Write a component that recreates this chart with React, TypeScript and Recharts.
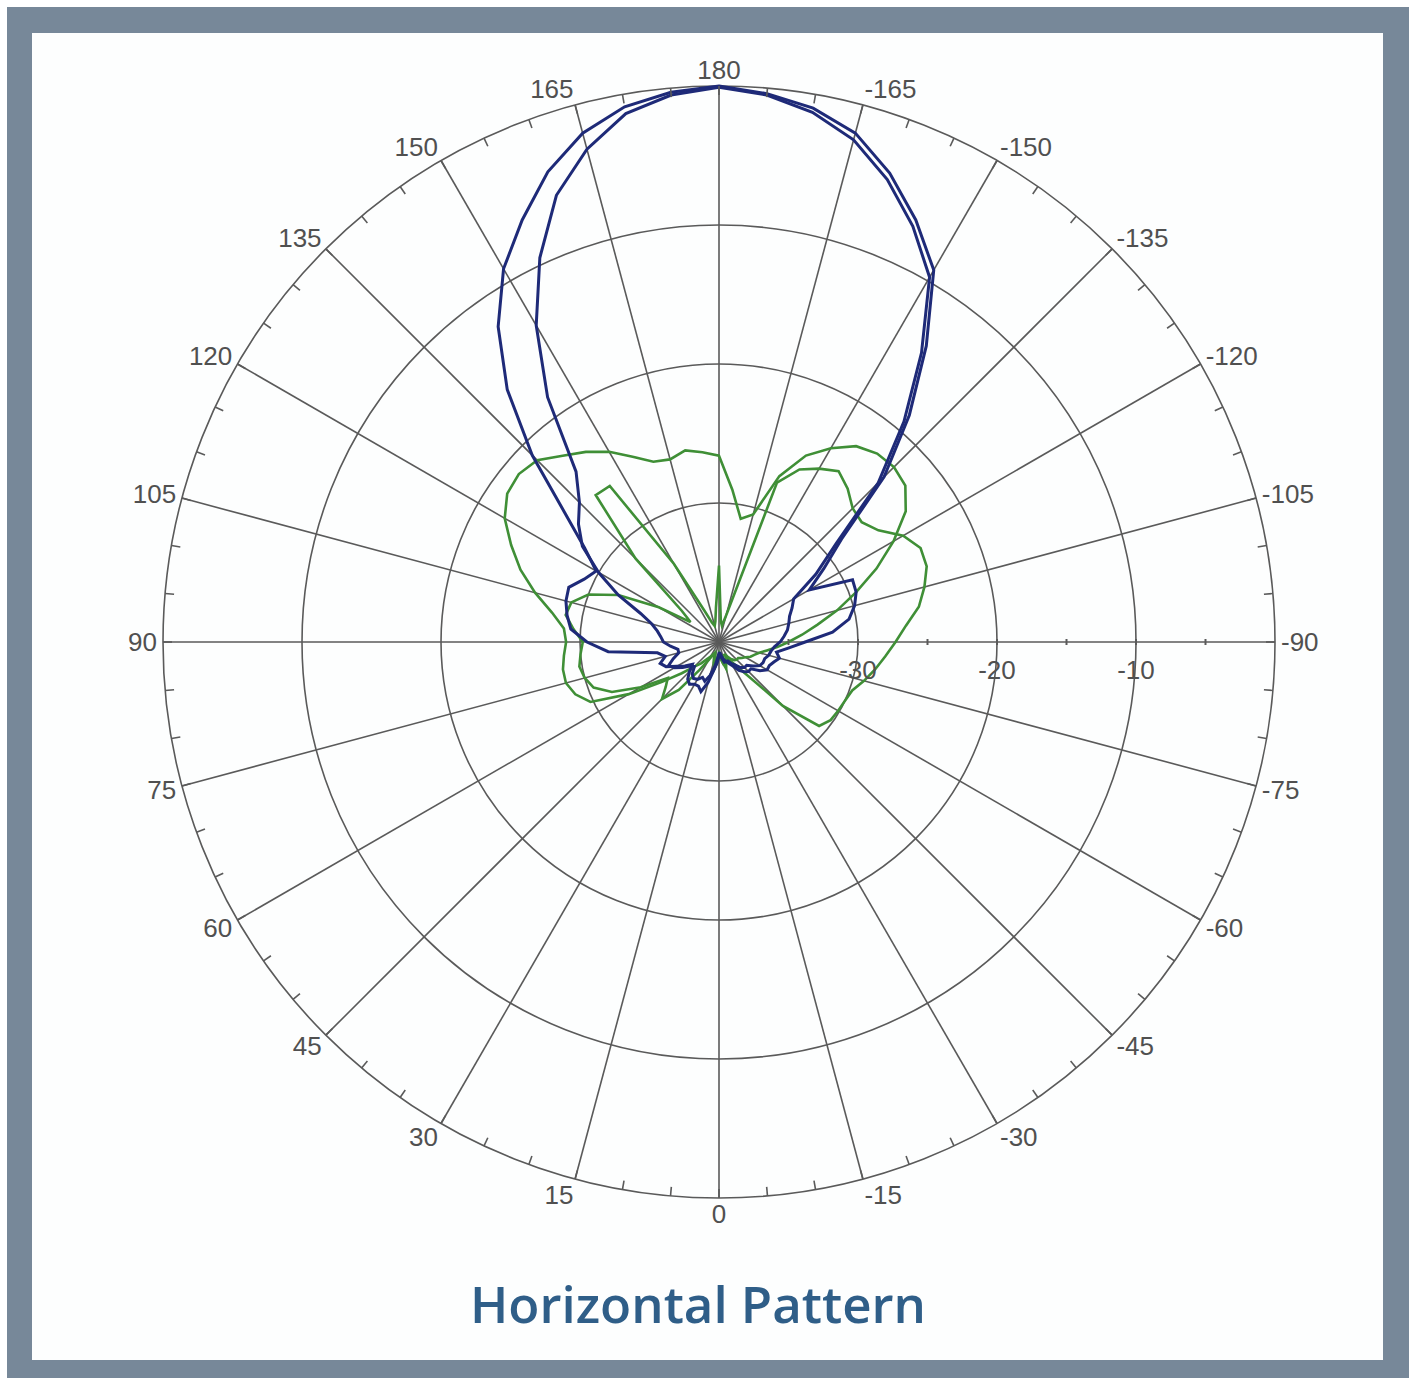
import React from 'react';
import { RadarChart, Radar, PolarGrid, PolarAngleAxis, PolarRadiusAxis } from 'recharts';

// pattern angles, 180 at the top, positive to the left
const ANGLES = [
  180, 175, 170, 165, 160, 155, 150, 145, 140, 135, 130, 125, 120, 115, 110, 105, 100, 95,
  90, 85, 80, 75, 70, 65, 60, 55, 50, 45, 40, 35, 30, 25, 20, 15, 10, 5,
  0, -5, -10, -15, -20, -25, -30, -35, -40, -45, -50, -55, -60, -65, -70, -75, -80, -85,
  -90, -95, -100, -105, -110, -115, -120, -125, -130, -135, -140, -145, -150, -155, -160, -165, -170, -175,
];

// dB values per angle
const BLUE_A = [
  0, -0.3, -0.9, -2.1, -4.0, -6.5, -9.0, -12.3, -16.3, -21.0, -25.5, -28.2, -29.8, -29.3, -28.5, -28.6, -28.9, -29.3,
  -30.5, -32.0, -35.5, -36.0, -35.5, -35.8, -36.5, -37.0, -37.5, -37.0, -36.5, -36.3, -36.5, -36.5, -36.2, -37.0, -38.0, -38.5,
  -39.0, -39.0, -38.8, -38.5, -38.5, -38.3, -38.0, -37.5, -37.2, -37.0, -37.0, -36.4, -36.0, -36.0, -35.8, -35.5, -35.8, -35.0,
  -33.8, -31.8, -30.5, -29.9, -29.5, -29.4, -32.5, -30.8, -28.5, -23.2, -18.7, -14.0, -9.1, -6.5, -4.1, -2.1, -1.0, -0.4,
];
const BLUE_B = [
  -0.1, -0.5, -1.4, -3.3, -5.8, -9.5, -13.7, -18.5, -24.0, -25.8, -26.8, -28.0, -30.0, -32.0, -34.0, -35.0, -35.5, -35.8,
  -36.0, -36.5, -37.0, -37.0, -36.5, -36.0, -36.3, -36.8, -37.3, -37.5, -37.0, -36.8, -36.9, -37.2, -37.0, -37.5, -38.2, -38.8,
  -39.2, -39.2, -39.0, -38.7, -38.5, -38.5, -38.2, -38.0, -37.6, -37.4, -37.4, -37.0, -36.6, -36.5, -36.5, -36.3, -36.2, -36.0,
  -35.6, -35.3, -35.0, -34.8, -34.6, -34.2, -33.8, -31.5, -29.0, -23.8, -19.3, -14.6, -9.7, -7.0, -4.6, -2.6, -1.3, -0.5,
];
const GREEN_A = [
  -26.6, -26.3, -26.0, -26.4, -26.2, -25.3, -24.2, -23.3, -22.5, -21.5, -21.2, -21.4, -22.2, -23.5, -24.8, -26.3, -27.8, -28.8,
  -29.0, -28.8, -28.6, -28.6, -29.0, -29.8, -32.5, -35.0, -36.5, -37.5, -38.0, -38.5, -38.8, -39.0, -39.0, -38.5, -38.0, -38.5,
  -39.0, -38.8, -38.5, -38.8, -39.0, -39.0, -38.8, -38.5, -38.3, -38.2, -38.2, -38.0, -37.8, -37.5, -37.3, -37.0, -36.5, -35.8,
  -35.0, -34.0, -32.8, -31.2, -29.5, -27.5, -25.5, -23.6, -22.5, -22.2, -22.3, -22.8, -23.9, -25.2, -27.3, -30.5, -31.0, -29.0,
];
const GREEN_B = [
  -34.5, -37.5, -38.5, -38.8, -38.5, -37.5, -33.5, -26.3, -26.2, -31.5, -36.5, -37.5, -35.0, -32.0, -30.0, -29.0, -28.8, -29.5,
  -30.2, -30.0, -29.8, -30.0, -30.4, -31.5, -33.5, -35.5, -35.0, -34.2, -35.5, -37.5, -38.5, -39.0, -39.2, -39.0, -38.0, -38.8,
  -39.2, -39.0, -38.5, -38.0, -38.5, -38.8, -38.5, -38.0, -37.0, -33.5, -30.6, -30.2, -30.1, -30.0, -29.8, -29.2, -28.6, -28.0,
  -27.3, -26.5, -25.4, -24.7, -24.1, -24.0, -24.7, -26.0, -26.6, -26.4, -25.6, -25.0, -25.6, -26.3, -27.8, -38.0, -38.8, -38.5,
];

const LABELLED_ANGLES = [180, 165, 150, 135, 120, 105, 90, 75, 60, 45, 30, 15, 0, -15, -30, -45, -60, -75, -90, -105, -120, -135, -150, -165];
const RING_DB = [-30, -20, -10, 0];
const RADIUS_TICKS = [-35, -30, -25, -20, -15, -10, -5];
const RADIUS_LABELS = [-30, -20, -10];
const DB_MIN = -40;
const DB_MAX = 0;

const CX = 719;
const CY = 642;
const R = 556;
const GRID = '#5a5a5a';
const LABEL = '#505050';
const FONT = '"Liberation Sans", Arial, sans-serif';

// recharts walks the categories clockwise from the top: 180, -175, ..., 0, ..., 175
const order = [0, ...ANGLES.slice(1).map((_, i) => ANGLES.length - 1 - i)];
const rowData = order.map(i => ({
  angle: ANGLES[i],
  blueA: BLUE_A[i],
  blueB: BLUE_B[i],
  greenA: GREEN_A[i],
  greenB: GREEN_B[i],
}));

const spokeAngles = LABELLED_ANGLES.map(t => (270 - t) % 360);
const ringRadii = RING_DB.map(v => (R * (v - DB_MIN)) / (DB_MAX - DB_MIN));

const AngleTick = (props: any) => {
  const { payload } = props;
  const a = (payload.coordinate * Math.PI) / 180;
  const cos = Math.cos(a);
  const sin = Math.sin(a);
  const theta = Number(payload.value);
  const x1 = CX + R * cos, y1 = CY - R * sin;
  const x2 = CX + (R - 9) * cos, y2 = CY - (R - 9) * sin;
  const showLabel = LABELLED_ANGLES.includes(theta);
  const ax = CX + (R + 6) * cos;
  const ay = CY - (R + 6) * sin - sin * 10;
  const anchor = theta === 0 || theta === 180 ? 'middle' : theta > 0 ? 'end' : 'start';
  return (
    <g>
      <line x1={x1} y1={y1} x2={x2} y2={y2} stroke={GRID} strokeWidth={1.6} />
      {showLabel && (
        <text x={ax} y={ay} textAnchor={anchor} dominantBaseline="central" fontSize={26} fontFamily={FONT} fill={LABEL}>
          {String(theta)}
        </text>
      )}
    </g>
  );
};

const RadiusTick = (props: any) => {
  const { x, y, payload } = props;
  const v = Number(payload.value);
  return (
    <g>
      <line x1={x} y1={y - 3} x2={x} y2={y + 3} stroke={GRID} strokeWidth={2} />
      {RADIUS_LABELS.includes(v) && (
        <text x={x} y={y + 28} textAnchor="middle" dominantBaseline="central" fontSize={26} fontFamily={FONT} fill={LABEL}>
          {String(v)}
        </text>
      )}
    </g>
  );
};

const App = () => {
  return (
    <div style={{ position: 'absolute', left: 0, top: 0, width: 1409, height: 1378, background: '#fff' }}>
      <div style={{ position: 'absolute', left: 7, top: 7, width: 1402, height: 1371, background: '#778899' }} />
      <div style={{ position: 'absolute', left: 32, top: 33, width: 1351, height: 1327, background: '#fdfefe' }} />
      <div style={{ position: 'absolute', left: 0, top: 0 }}>
        <RadarChart
          width={1409}
          height={1378}
          cx={CX}
          cy={CY}
          innerRadius={0}
          outerRadius={R}
          data={rowData}
          margin={{ top: 0, right: 0, bottom: 0, left: 0 }}
        >
          <PolarGrid gridType="circle" polarAngles={spokeAngles} polarRadius={ringRadii} stroke={GRID} strokeWidth={1.6} />
          <PolarAngleAxis dataKey="angle" tick={AngleTick} tickLine={false} axisLine={false} />
          <PolarRadiusAxis angle={0} type="number" domain={[DB_MIN, DB_MAX]} ticks={RADIUS_TICKS} tick={RadiusTick} axisLine={false} tickLine={false} />
          <Radar dataKey="greenA" stroke="#3f8f36" strokeWidth={2.6} fill="none" fillOpacity={0} dot={false} isAnimationActive={false} />
          <Radar dataKey="greenB" stroke="#3f8f36" strokeWidth={2.6} fill="none" fillOpacity={0} dot={false} isAnimationActive={false} />
          <Radar dataKey="blueA" stroke="#1e2a78" strokeWidth={3} fill="none" fillOpacity={0} dot={false} isAnimationActive={false} />
          <Radar dataKey="blueB" stroke="#1e2a78" strokeWidth={3} fill="none" fillOpacity={0} dot={false} isAnimationActive={false} />
        </RadarChart>
      </div>
      <svg style={{ position: 'absolute', left: 0, top: 1240 }} width={1409} height={110}>
        <text x={698} y={83} textAnchor="middle" fontSize={51} fontWeight={600} fontFamily='"Open Sans", sans-serif' fill="#2f5e88">
          Horizontal Pattern
        </text>
      </svg>
    </div>
  );
};

export default App;
